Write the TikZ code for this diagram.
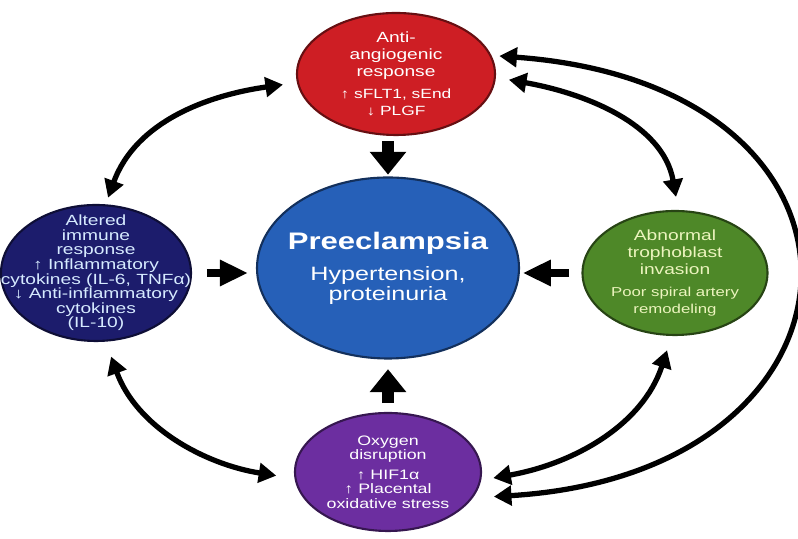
\documentclass[tikz,border=0pt]{standalone}
\usepackage{fontspec}
\setmainfont{Liberation Sans}[FakeStretch=1.3]
\usetikzlibrary{arrows.meta,shapes.geometric}
\definecolor{antired}{RGB}{206,30,36}
\definecolor{preblue}{RGB}{38,96,184}
\definecolor{immnavy}{RGB}{28,28,108}
\definecolor{trogreen}{RGB}{78,136,40}
\definecolor{oxyviolet}{RGB}{108,46,160}
\definecolor{navytext}{RGB}{214,234,255}
\definecolor{greentext}{RGB}{236,244,190}
\newcommand{\fsz}[2]{\fontsize{#1}{#2}\selectfont}
\newcommand{\up}{\textbf{↑}}
\newcommand{\down}{\textbf{↓}}

\begin{document}
\begin{tikzpicture}[
  bubble/.style={ellipse,draw=#1!50!black,line width=1.2pt,fill=#1,inner sep=0pt},
  txt/.style={align=center,text=white,inner sep=0pt,
    font=\fontsize{8.4}{9.6}\selectfont},
  curv/.style={{Triangle[width=11pt,length=10pt]}-{Triangle[width=11pt,length=10pt]},
    line width=3pt},
  varr/.style={-{Triangle[width=20pt,length=13pt]},line width=6.8pt},
  harr/.style={-{Triangle[width=14pt,length=16pt]},line width=4.8pt}]

\useasboundingbox (0,0) rectangle (15.96,10.78);

\node[bubble=antired,minimum width=3.96cm,minimum height=2.44cm,
  label={[txt]center:{Anti-\\angiogenic\\response\\[3pt]
    \fsz{7.6}{8.2}\up{} sFLT1, sEnd\\\fsz{7.6}{8.2}\down{} PLGF}}] (anti) at (7.92,9.30) {};
\node[bubble=preblue,minimum width=5.24cm,minimum height=3.62cm,
  label={[txt]center:{\fsz{13.6}{16}\bfseries Preeclampsia\\[6pt]
    \fsz{11}{11}Hypertension,\\\fsz{11}{11}proteinuria}}] (pre) at (7.76,5.42) {};
\node[bubble=immnavy,minimum width=3.80cm,minimum height=2.72cm,
  label={[txt,text=navytext,font=\fsz{8.4}{8.3}]center:{Altered\\immune\\response\\
    \up{} Inflammatory\\cytokines (IL-6, TNFα)\\\down{} Anti-inflammatory\\cytokines\\(IL-10)}}]
  (imm) at (1.92,5.32) {};
\node[bubble=trogreen,minimum width=3.70cm,minimum height=2.48cm,
  label={[txt,text=greentext]center:{Abnormal\\trophoblast\\invasion\\[3pt]
    \fsz{7.35}{8}Poor spiral artery\\\fsz{7.35}{8}remodeling}}] (tro) at (13.50,5.32) {};
\node[bubble=oxyviolet,minimum width=3.72cm,minimum height=2.36cm,
  label={[txt,font=\fsz{7.8}{8.2}]center:{Oxygen\\disruption\\[3pt]
    \up{} HIF1α\\\up{} Placental\\oxidative stress}}] (oxy) at (7.76,1.34) {};

% block arrows into the centre
\draw[varr,shorten <=3pt,shorten >=1pt] (anti.south -| pre.north) -- (pre.north);
\draw[varr,shorten <=5pt,shorten >=5.5pt] (oxy.north) -- (pre.south);
\draw[harr,shorten <=8.5pt,shorten >=4.5pt] (imm.east) -- (imm.east -| pre.west);
\draw[harr,shorten <=7pt,shorten >=1.5pt] (tro.west) -- (tro.west -| pre.east);

% two-way links round the ring
\draw[curv,shorten <=8pt,shorten >=4pt] (anti.185) to[out=188,in=70] (imm.82);
\draw[curv,shorten <=9pt,shorten >=10.5pt] (imm.-82) to[out=-70,in=171] (oxy.184);
\draw[curv,shorten <=7.5pt,shorten >=7.5pt] (anti.-2) to[out=-10,in=100] (tro.87);
\draw[curv,shorten <=8.5pt,shorten >=7pt] (tro.-93) to[out=-108,in=10] (oxy.-5);
\draw[curv,shorten <=4.5pt,shorten >=12pt] (anti.11)
  .. controls +(8.3,-0.6) and +(8.3,0.5) .. (oxy.-17);
\end{tikzpicture}
\end{document}
